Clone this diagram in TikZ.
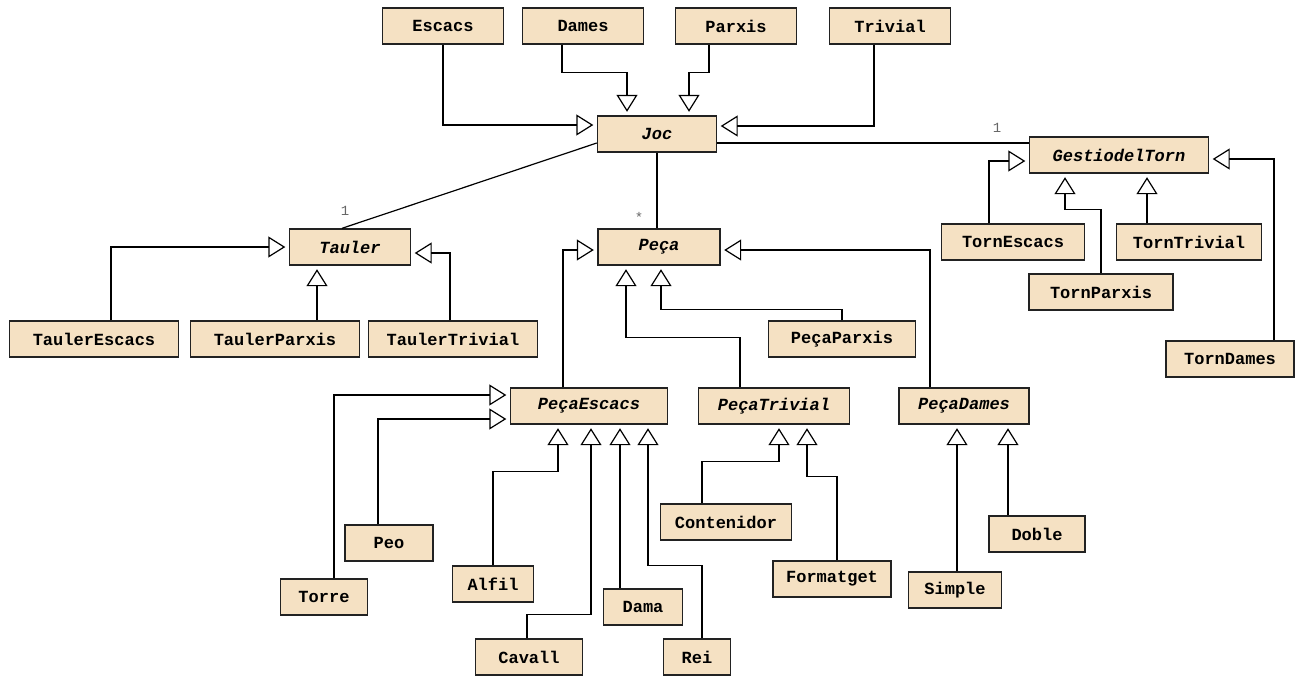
\documentclass[tikz,border=0pt]{standalone}
\usepackage{fontspec}
\setmainfont{Liberation Mono}
\usetikzlibrary{arrows.meta}
\definecolor{clsfill}{HTML}{F5E1C3}
\definecolor{clsline}{HTML}{222222}
\definecolor{mult}{HTML}{666666}
\tikzset{
  cls/.style={draw=clsline, fill=clsfill, line width=1.4pt, minimum height=36pt,
    inner sep=0pt, font=\fontsize{17}{20}\selectfont\bfseries},
  abs/.style={cls, font=\fontsize{17}{20}\selectfont\bfseries\itshape},
  inh/.style={line width=1.2pt, shorten >=3.5pt,
    -{Triangle[open, length=17pt, width=21pt, line width=1.2pt]}},
  assoc/.style={line width=1.2pt},
  mlabel/.style={font=\fontsize{14}{16}\selectfont, text=mult, inner sep=0pt}
}
\begin{document}
\begin{tikzpicture}[x=1pt, y=-1pt]
\useasboundingbox (0,0) rectangle (1302,678);

% games
\node[cls, minimum width=121pt] (esc) at (443,26) {Escacs};
\node[cls, minimum width=121pt] (dam) at (583,26) {Dames};
\node[cls, minimum width=121pt] (par) at (736,26) {Parxis};
\node[cls, minimum width=121pt] (tri) at (890,26) {Trivial};
\node[abs, minimum width=119pt] (joc) at (657,134) {Joc};

% turn handling
\node[abs, minimum width=179pt] (gest) at (1119,155) {GestiodelTorn};
\node[cls, minimum width=143pt] (tesc) at (1013,242) {TornEscacs};
\node[cls, minimum width=145pt] (ttri) at (1189,242) {TornTrivial};
\node[cls, minimum width=144pt] (tpar) at (1101,292) {TornParxis};
\node[cls, minimum width=128pt] (tdam) at (1230,359) {TornDames};

% boards
\node[abs, minimum width=121pt] (tau) at (350,247) {Tauler};
\node[cls, minimum width=169pt] (taue) at (94,339) {TaulerEscacs};
\node[cls, minimum width=169pt] (taup) at (275,339) {TaulerParxis};
\node[cls, minimum width=169pt] (taut) at (453,339) {TaulerTrivial};

% pieces
\node[abs, minimum width=122pt] (pec) at (659,247) {Peça};
\node[cls, minimum width=147pt] (ppar) at (842,339) {PeçaParxis};
\node[abs, minimum width=157pt] (pesc) at (589,406) {PeçaEscacs};
\node[abs, minimum width=151pt] (ptri) at (774,406) {PeçaTrivial};
\node[abs, minimum width=130pt] (pdam) at (964,406) {PeçaDames};

\node[cls, minimum width=131pt] (cont) at (726,522) {Contenidor};
\node[cls, minimum width=118pt] (form) at (832,579) {Formatget};
\node[cls, minimum width=93pt] (simp) at (955,590) {Simple};
\node[cls, minimum width=96pt] (dobl) at (1037,534) {Doble};

\node[cls, minimum width=88pt] (peo) at (389,543) {Peo};
\node[cls, minimum width=87pt] (torr) at (324,597) {Torre};
\node[cls, minimum width=81pt] (alfi) at (493,584) {Alfil};
\node[cls, minimum width=107pt] (cava) at (529,657) {Cavall};
\node[cls, minimum width=79pt] (dama) at (643,607) {Dama};
\node[cls, minimum width=67pt] (rei) at (697,657) {Rei};

% games -> Joc
\draw[inh] (esc.south) |- ([yshift=9pt]joc.west);
\draw[inh] ([xshift=-21pt]dam.south) -- ++(0,28) -| ([xshift=-30pt]joc.north);
\draw[inh] ([xshift=-27pt]par.south) -- ++(0,28) -| ([xshift=32pt]joc.north);
\draw[inh] ([xshift=-16pt]tri.south) |- ([yshift=8pt]joc.east);

% associations
\draw[assoc] ([yshift=-9pt]joc.east) -- ([yshift=12pt]gest.west);
\node[mlabel] (m1) at (997,128) {1};
\draw[assoc] ([yshift=-9pt]joc.west) -- ([xshift=-8pt]tau.north);
\node[mlabel] (m2) at (345,211) {1};
\draw[assoc] (joc.south) -- (joc.south |- pec.north);
\node[mlabel] (m3) at (639,217) {*};

% boards -> Tauler
\draw[inh] ([xshift=17pt]taue.north) |- (tau.west);
\draw[inh] ([xshift=42pt]taup.north) -- ([xshift=-33pt]tau.south);
\draw[inh] ([xshift=-3pt]taut.north) |- ([yshift=-6pt]tau.east);

% turns -> GestiodelTorn
\draw[inh] ([xshift=-24pt]tesc.north) |- ([yshift=-6pt]gest.west);
\draw[inh] (tpar.north) -- ++(0,-64) -| ([xshift=-54pt]gest.south);
\draw[inh] ([xshift=-42pt]ttri.north) -- ([xshift=28pt]gest.south);
\draw[inh] ([xshift=44pt]tdam.north) |- ([yshift=-4pt]gest.east);

% pieces -> Peça
\draw[inh] ([xshift=-26pt]pesc.north) |- ([yshift=-3pt]pec.west);
\draw[inh] ([xshift=-34pt]ptri.north) -- ++(0,-50) -| ([xshift=-33pt]pec.south);
\draw[inh] (ppar.north) -- ++(0,-11) -| ([xshift=2pt]pec.south);
\draw[inh] ([xshift=-34pt]pdam.north) |- ([yshift=-3pt]pec.east);

% chess pieces -> PeçaEscacs
\draw[inh] ([xshift=10pt]torr.north) |- ([yshift=11pt]pesc.west);
\draw[inh] ([xshift=-11pt]peo.north) |- ([yshift=-13pt]pesc.west);
\draw[inh] (alfi.north) -- ++(0,-94) -| ([xshift=-31pt]pesc.south);
\draw[inh] ([xshift=-2pt]cava.north) -- ++(0,-24) -| ([xshift=2pt]pesc.south);
\draw[inh] ([xshift=-23pt]dama.north) -- ([xshift=31pt]pesc.south);
\draw[inh] ([xshift=5pt]rei.north) -- ++(0,-73) -| ([xshift=59pt]pesc.south);

% trivial pieces -> PeçaTrivial
\draw[inh] ([xshift=-24pt]cont.north) -- ++(0,-42) -| ([xshift=5pt]ptri.south);
\draw[inh] ([xshift=5pt]form.north) -- ++(0,-84) -| ([xshift=33pt]ptri.south);

% draughts pieces -> PeçaDames
\draw[inh] ([xshift=2pt]simp.north) -- ([xshift=-7pt]pdam.south);
\draw[inh] ([xshift=-29pt]dobl.north) -- ([xshift=44pt]pdam.south);
\end{tikzpicture}
\end{document}
